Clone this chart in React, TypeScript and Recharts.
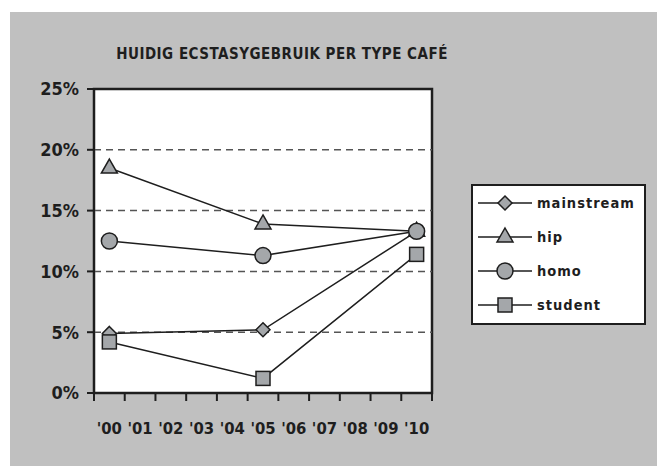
import React from "react";
import {
  LineChart,
  Line,
  XAxis,
  YAxis,
  ReferenceArea,
  ReferenceLine,
} from "recharts";

const YEARS = ["'00", "'01", "'02", "'03", "'04", "'05", "'06", "'07", "'08", "'09", "'10"];
const POINT_YEARS = [0, 5, 10];
const mainstream = [4.9, 5.2, 13.3];
const hip = [18.5, 13.9, 13.3];
const homo = [12.5, 11.3, 13.3];
const student = [4.2, 1.2, 11.4];
const Y_TICKS = [0, 5, 10, 15, 20, 25];
const GRID = [5, 10, 15, 20];

const SERIES = [
  { key: "mainstream", shape: "diamond" },
  { key: "hip", shape: "triangle" },
  { key: "homo", shape: "circle" },
  { key: "student", shape: "square" },
];

const data = POINT_YEARS.map((x, i) => ({
  x,
  mainstream: mainstream[i],
  hip: hip[i],
  homo: homo[i],
  student: student[i],
}));

const FONT = "'DejaVu Sans Condensed', 'Liberation Sans Narrow', 'DejaVu Sans', sans-serif";
const FILL = "#a4a7aa";
const INK = "#1e1e1e";
const W = 647;
const H = 454;
const MARGIN = { top: 77, left: 24, right: 225, bottom: 33 };
const Y_W = 60;
const X_H = 40;
const PLOT_W = W - MARGIN.left - MARGIN.right - Y_W;
const STEP = PLOT_W / YEARS.length;

function Marker({ shape, cx, cy }: { shape: string; cx: number; cy: number }) {
  const common = { fill: FILL, stroke: INK, strokeWidth: 1.5 };
  if (shape === "diamond")
    return <polygon points={`${cx},${cy - 7} ${cx + 7},${cy} ${cx},${cy + 7} ${cx - 7},${cy}`} {...common} />;
  if (shape === "triangle")
    return <polygon points={`${cx},${cy - 9} ${cx + 8},${cy + 5} ${cx - 8},${cy + 5}`} {...common} />;
  if (shape === "circle") return <circle cx={cx} cy={cy} r={8} {...common} />;
  return <rect x={cx - 7} y={cy - 7} width={14} height={14} {...common} />;
}

function YearTick(props: any) {
  const { x, y, payload } = props;
  const idx = payload.value + 0.5;
  if (idx >= YEARS.length) return null;
  return (
    <text
      x={x + STEP / 2}
      y={y + 31}
      textAnchor="middle"
      fontFamily={FONT}
      fontWeight="bold"
      fontSize={16.5}
      fill={INK}
    >
      {YEARS[idx]}
    </text>
  );
}

function LegendBox() {
  return (
    <svg width={175} height={141} style={{ display: "block" }}>
      <rect x={1} y={1} width={173} height={139} fill="#fff" stroke={INK} strokeWidth={2} />
      {SERIES.map((s, i) => {
        const cy = 19 + i * 34;
        return (
          <g key={s.key}>
            <line x1={7} x2={61} y1={cy} y2={cy} stroke={INK} strokeWidth={1.5} />
            <Marker shape={s.shape} cx={34} cy={cy} />
            <text
              x={66}
              y={cy + 5}
              fontFamily={FONT}
              fontWeight="bold"
              fontSize={14.5}
              letterSpacing={1}
              fill={INK}
            >
              {s.key}
            </text>
          </g>
        );
      })}
    </svg>
  );
}

export default function App() {
  return (
    <div style={{ position: "absolute", left: 0, top: 0, width: 657, height: 466, background: "#fff" }}>
      <div style={{ position: "absolute", left: 10, top: 12, width: W, height: H, background: "#c0c0c0" }}>
        <LineChart width={W} height={H} data={data} margin={MARGIN}>
          <text
            x={272}
            y={47}
            textAnchor="middle"
            fontFamily={FONT}
            fontWeight="bold"
            fontSize={15}
            letterSpacing={0.5}
            fill={INK}
          >
            HUIDIG ECSTASYGEBRUIK PER TYPE CAFÉ
          </text>
          <XAxis
            dataKey="x"
            type="number"
            domain={[-0.5, 10.5]}
            ticks={YEARS.map((_, i) => i - 0.5).concat([10.5])}
            height={X_H}
            tickSize={8}
            tickLine={{ stroke: INK, strokeWidth: 2 }}
            axisLine={{ stroke: INK, strokeWidth: 2 }}
            tick={<YearTick />}
            interval={0}
          />
          <YAxis
            domain={[0, 25]}
            ticks={Y_TICKS}
            width={Y_W}
            tickSize={7}
            tickMargin={8}
            tickFormatter={(v) => `${v}%`}
            tickLine={{ stroke: INK, strokeWidth: 2 }}
            axisLine={{ stroke: INK, strokeWidth: 2 }}
            tick={{ fill: INK, fontFamily: FONT, fontWeight: "bold", fontSize: 18 }}
            interval={0}
          />
          <ReferenceArea x1={-0.5} x2={10.5} y1={0} y2={25} fill="#fff" fillOpacity={1} stroke={INK} strokeWidth={2.5} />
          {GRID.map((g) => (
            <ReferenceLine key={g} y={g} stroke="#555" strokeDasharray="7 5" strokeWidth={1.5} />
          ))}
          {SERIES.map((s) => (
            <Line
              key={s.key}
              dataKey={s.key}
              stroke={INK}
              strokeWidth={1.5}
              isAnimationActive={false}
              dot={(p: any) => <Marker key={`${s.key}-${p.index}`} shape={s.shape} cx={p.cx} cy={p.cy} />}
            />
          ))}
        </LineChart>
        <div style={{ position: "absolute", left: 461, top: 172 }}>
          <LegendBox />
        </div>
      </div>
    </div>
  );
}
